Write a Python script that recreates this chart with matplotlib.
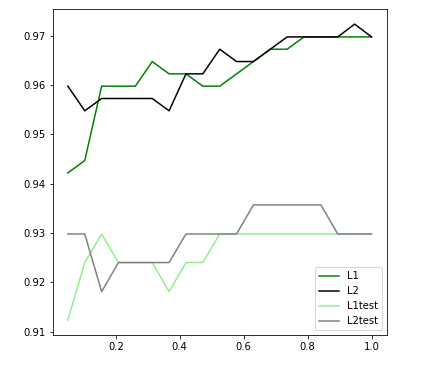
import matplotlib
matplotlib.use('Agg')
import matplotlib.pyplot as plt

# regularisation strength (x) and accuracies
x = [0.05, 0.1028, 0.1556, 0.2083, 0.2611, 0.3139, 0.3667, 0.4194, 0.4722, 0.525,
     0.5778, 0.6306, 0.6833, 0.7361, 0.7889, 0.8417, 0.8944, 0.9472, 1.0]

l1_train = [0.9422, 0.9447, 0.9598, 0.9598, 0.9598, 0.9648, 0.9623, 0.9623, 0.9598, 0.9598,
            0.9623, 0.9648, 0.9673, 0.9673, 0.9698, 0.9698, 0.9698, 0.9698, 0.9698]
l2_train = [0.9598, 0.9548, 0.9573, 0.9573, 0.9573, 0.9573, 0.9548, 0.9623, 0.9623, 0.9673,
            0.9648, 0.9648, 0.9673, 0.9698, 0.9698, 0.9698, 0.9698, 0.9724, 0.9698]
l1_test = [0.9123, 0.9240, 0.9298, 0.9240, 0.9240, 0.9240, 0.9181, 0.9240, 0.9240, 0.9298,
           0.9298, 0.9298, 0.9298, 0.9298, 0.9298, 0.9298, 0.9298, 0.9298, 0.9298]
l2_test = [0.9298, 0.9298, 0.9181, 0.9240, 0.9240, 0.9240, 0.9240, 0.9298, 0.9298, 0.9298,
           0.9298, 0.9357, 0.9357, 0.9357, 0.9357, 0.9357, 0.9298, 0.9298, 0.9298]

labels = ['L1', 'L2', 'L1test', 'L2test']
colors = ['green', 'black', 'lightgreen', 'gray']

fig = plt.figure(figsize=(431 / 72, 365 / 72), dpi=72)
ax = fig.add_axes([52.7 / 431, 1 - 335 / 365, (386.7 - 52.7) / 431, (335 - 9.3) / 365])

for series, lab, col in zip([l1_train, l2_train, l1_test, l2_test], labels, colors):
    ax.plot(x, series, color=col, label=lab)

ax.legend(loc='lower right')
fig.savefig('out.png', dpi=72)
